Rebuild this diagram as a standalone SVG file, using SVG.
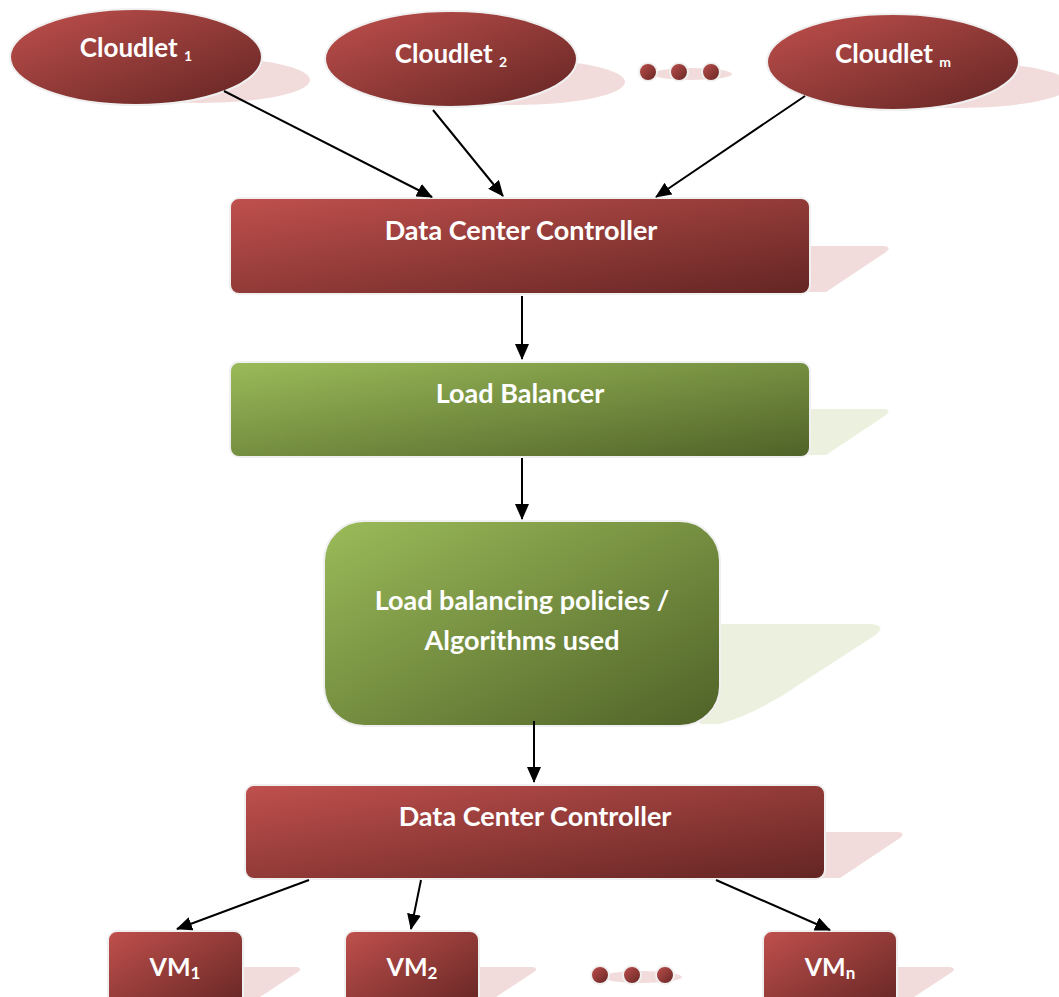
<svg xmlns="http://www.w3.org/2000/svg" width="1059" height="997" viewBox="0 0 1059 997">
  <defs>
    <linearGradient id="red" x1="0" y1="0" x2="1" y2="1">
      <stop offset="0" stop-color="#c0504d"/>
      <stop offset="1" stop-color="#632523"/>
    </linearGradient>
    <linearGradient id="green" x1="0" y1="0" x2="1" y2="1">
      <stop offset="0" stop-color="#9bbb59"/>
      <stop offset="1" stop-color="#4f6228"/>
    </linearGradient>
    <marker id="arrow" viewBox="0 0 16 14" refX="15" refY="7" markerWidth="16" markerHeight="14" markerUnits="userSpaceOnUse" orient="auto">
      <path d="M0,0 L16,7 L0,14 Z" fill="#000"/>
    </marker>
    <style>
      .red { fill: url(#red); stroke: #f0f0f0; stroke-width: 2; }
      .green { fill: url(#green); stroke: #f0f0f0; stroke-width: 2; }
      .rshadow { fill: #f2dcdb; }
      .gshadow { fill: #ebf1de; }
      .label { font-family: Lato, "Liberation Sans", sans-serif; font-weight: bold; font-size: 27px; fill: #ffffff; text-anchor: middle; }
      .cl { font-size: 26px; }
      .vm { font-size: 25px; }
      .sub { font-size: 14px; }
      .vsub { font-size: 17px; }
      .conn { stroke: #000; stroke-width: 2; fill: none; marker-end: url(#arrow); }
    </style>
  </defs>

  <!-- cloudlets -->
  <g id="cloudlet1">
    <ellipse class="rshadow" cx="200" cy="80" rx="110" ry="23"/>
    <ellipse class="red" cx="136" cy="57" rx="126" ry="48"/>
    <text class="label cl" x="136" y="57">Cloudlet <tspan class="sub" dy="4">1</tspan></text>
  </g>
  <g id="cloudlet2">
    <ellipse class="rshadow" cx="515" cy="82" rx="110" ry="23"/>
    <ellipse class="red" cx="451" cy="59" rx="126" ry="48"/>
    <text class="label cl" x="451" y="63">Cloudlet <tspan class="sub" dy="4">2</tspan></text>
  </g>
  <g id="dots-top">
    <ellipse class="rshadow" cx="692" cy="74" rx="40" ry="6"/>
    <circle class="red" cx="648" cy="72" r="9"/>
    <circle class="red" cx="679" cy="72" r="9"/>
    <circle class="red" cx="711" cy="72" r="9"/>
  </g>
  <g id="cloudletm">
    <ellipse class="rshadow" cx="960" cy="85" rx="110" ry="23"/>
    <ellipse class="red" cx="893" cy="62" rx="126" ry="48"/>
    <text class="label cl" x="893" y="63">Cloudlet <tspan class="sub" dy="4">m</tspan></text>
  </g>

  <!-- data center controller (upper) -->
  <g id="dcc-top">
    <path class="rshadow" d="M805,246 L884,246 Q892,247 886,252 L826,292 L805,292 Z"/>
    <rect class="red" x="230" y="198" width="580" height="96" rx="9"/>
    <text class="label" x="521" y="240">Data Center Controller</text>
  </g>

  <!-- load balancer -->
  <g id="load-balancer">
    <path class="gshadow" d="M805,409 L884,409 Q892,410 886,415 L826,455 L805,455 Z"/>
    <rect class="green" x="230" y="362" width="580" height="95" rx="9"/>
    <text class="label" x="520" y="403">Load Balancer</text>
  </g>

  <!-- policies / algorithms -->
  <g id="policies">
    <path class="gshadow" d="M700,624 L872,624 Q888,626 874,636 L800,684 Q760,712 720,724 L700,724 Z"/>
    <rect class="green" x="324" y="521" width="396" height="205" rx="40"/>
    <text class="label" x="522" y="610">Load balancing policies /</text>
    <text class="label" x="522" y="650">Algorithms used</text>
  </g>

  <!-- data center controller (lower) -->
  <g id="dcc-bottom">
    <path class="rshadow" d="M820,832 L898,832 Q906,833 900,838 L840,878 L820,878 Z"/>
    <rect class="red" x="245" y="785" width="580" height="94" rx="9"/>
    <text class="label" x="535" y="826">Data Center Controller</text>
  </g>

  <!-- virtual machines -->
  <g id="vm1">
    <path class="rshadow" d="M235,967 L296,967 Q303,968 298,972 L260,997 L235,997 Z"/>
    <rect class="red" x="108" y="931" width="135" height="80" rx="9"/>
    <text class="label vm" x="175" y="976">VM<tspan class="vsub" dy="3">1</tspan></text>
  </g>
  <g id="vm2">
    <path class="rshadow" d="M472,967 L532,967 Q539,968 534,972 L496,997 L472,997 Z"/>
    <rect class="red" x="345" y="931" width="134" height="80" rx="9"/>
    <text class="label vm" x="412" y="976">VM<tspan class="vsub" dy="3">2</tspan></text>
  </g>
  <g id="dots-bottom">
    <ellipse class="rshadow" cx="642" cy="977" rx="40" ry="6"/>
    <circle class="red" cx="600" cy="975" r="9"/>
    <circle class="red" cx="632" cy="975" r="9"/>
    <circle class="red" cx="665" cy="975" r="9"/>
  </g>
  <g id="vmn">
    <path class="rshadow" d="M890,967 L950,967 Q957,968 952,972 L914,997 L890,997 Z"/>
    <rect class="red" x="763" y="931" width="134" height="80" rx="9"/>
    <text class="label vm" x="830" y="976">VM<tspan class="vsub" dy="3">n</tspan></text>
  </g>

  <!-- connectors -->
  <g id="connectors">
    <line class="conn" x1="224" y1="91" x2="432" y2="197"/>
    <line class="conn" x1="433" y1="110" x2="503" y2="196"/>
    <line class="conn" x1="805" y1="96" x2="656" y2="197"/>
    <line class="conn" x1="522" y1="296" x2="522" y2="359"/>
    <line class="conn" x1="522" y1="458" x2="522" y2="519"/>
    <line class="conn" x1="534" y1="721" x2="534" y2="782"/>
    <line class="conn" x1="309" y1="880" x2="177" y2="929"/>
    <line class="conn" x1="421" y1="880" x2="411" y2="929"/>
    <line class="conn" x1="716" y1="880" x2="830" y2="930"/>
  </g>
</svg>
